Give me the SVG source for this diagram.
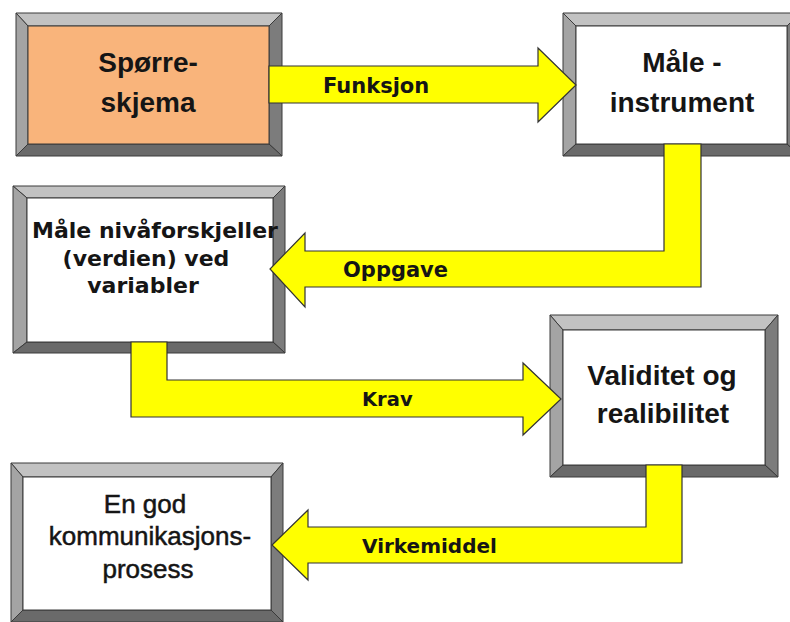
<svg xmlns="http://www.w3.org/2000/svg" width="790" height="622" viewBox="0 0 790 622">
<style>
.bt{fill:#c2c2c2;stroke:#3a3a3a;stroke-width:1}
.bl{fill:#a4a4a4;stroke:#3a3a3a;stroke-width:1}
.br{fill:#7c7c7c;stroke:#3a3a3a;stroke-width:1}
.bb{fill:#6a6a6a;stroke:#3a3a3a;stroke-width:1}
.face{fill:#ffffff;stroke:#3a3a3a;stroke-width:1}
.orange{fill:#f9b47b}
.t1{font-family:"Liberation Sans",Arial,sans-serif;font-weight:bold;font-size:28px;fill:#151515;text-anchor:middle}
.t2{font-family:"DejaVu Sans",Verdana,sans-serif;font-weight:bold;font-size:22px;fill:#151515;text-anchor:middle}
.t3{font-family:"Liberation Sans",Arial,sans-serif;font-size:26px;fill:#151515;stroke:#151515;stroke-width:0.5;text-anchor:middle}
.arr{fill:#ffff00;stroke:#333333;stroke-width:1.2;stroke-linejoin:miter}
.lab{font-family:"DejaVu Sans",Verdana,sans-serif;font-weight:bold;font-size:21px;fill:#151515}
</style>
<rect width="790" height="622" fill="#ffffff"/>
<g id="node-sporreskjema">
<polygon class="bt" points="16,13 282,13 269,26 28,26"/>
<polygon class="bl" points="16,13 28,26 28,144 16,156"/>
<polygon class="br" points="282,13 282,156 269,144 269,26"/>
<polygon class="bb" points="16,156 28,144 269,144 282,156"/>
<rect class="face orange" x="28" y="26" width="241" height="118"/>
<text class="t1" x="148" y="72">Spørre-</text>
<text class="t1" x="148" y="112">skjema</text>
</g>
<g id="node-maleinstrument">
<polygon class="bt" points="563,13 800,13 787,26 576,26"/>
<polygon class="bl" points="563,13 576,26 576,144 563,156"/>
<polygon class="br" points="800,13 800,156 787,144 787,26"/>
<polygon class="bb" points="563,156 576,144 787,144 800,156"/>
<rect class="face" x="576" y="26" width="211" height="118"/>
<text class="t1" x="682" y="72">Måle -</text>
<text class="t1" x="682" y="112">instrument</text>
</g>
<g id="node-nivaforskjeller">
<polygon class="bt" points="13,186 285,186 273,198 27,198"/>
<polygon class="bl" points="13,186 27,198 27,342 13,353"/>
<polygon class="br" points="285,186 285,353 273,342 273,198"/>
<polygon class="bb" points="13,353 27,342 273,342 285,353"/>
<rect class="face" x="27" y="198" width="246" height="144"/>
<text class="t2" x="155" y="238">Måle nivåforskjeller</text>
<text class="t2" x="146" y="266">(verdien) ved</text>
<text class="t2" x="143" y="293">variabler</text>
</g>
<g id="node-validitet">
<polygon class="bt" points="550,315 778,315 765,330 563,330"/>
<polygon class="bl" points="550,315 563,330 563,465 550,477"/>
<polygon class="br" points="778,315 778,477 765,465 765,330"/>
<polygon class="bb" points="550,477 563,465 765,465 778,477"/>
<rect class="face" x="563" y="330" width="202" height="135"/>
<text class="t1" x="662" y="385">Validitet og</text>
<text class="t1" x="663" y="423">realibilitet</text>
</g>
<g id="node-kommunikasjon">
<polygon class="bt" points="11,463 283,463 271,477 23,477"/>
<polygon class="bl" points="11,463 23,477 23,610 11,622"/>
<polygon class="br" points="283,463 283,622 271,610 271,477"/>
<polygon class="bb" points="11,622 23,610 271,610 283,622"/>
<rect class="face" x="23" y="477" width="248" height="133"/>
<text class="t3" x="145" y="513">En god</text>
<text class="t3" x="150" y="545">kommunikasjons-</text>
<text class="t3" x="148" y="578">prosess</text>
</g>
<g id="connectors">
<g id="edge-funksjon">
<polygon class="arr" points="269,66 538,66 538,48 576,85 538,122 538,103 269,103"/>
<text class="lab" x="323" y="93">Funksjon</text>
</g>
<g id="edge-oppgave">
<polygon class="arr" points="664,144 701,144 701,287 305,287 305,307 270,269 305,233 305,251 664,251"/>
<text class="lab" x="343" y="277">Oppgave</text>
</g>
<g id="edge-krav">
<polygon class="arr" points="131,342 167,342 167,380 523,380 523,363 561,399 523,435 523,417 131,417"/>
<text class="lab" x="362" y="406" style="font-size:19.5px">Krav</text>
</g>
<g id="edge-virkemiddel">
<polygon class="arr" points="646,465 682,465 682,563 308,563 308,580 272,545 308,510 308,527 646,527"/>
<text class="lab" x="362" y="553" style="font-size:20px">Virkemiddel</text>
</g>
</g>
</svg>
